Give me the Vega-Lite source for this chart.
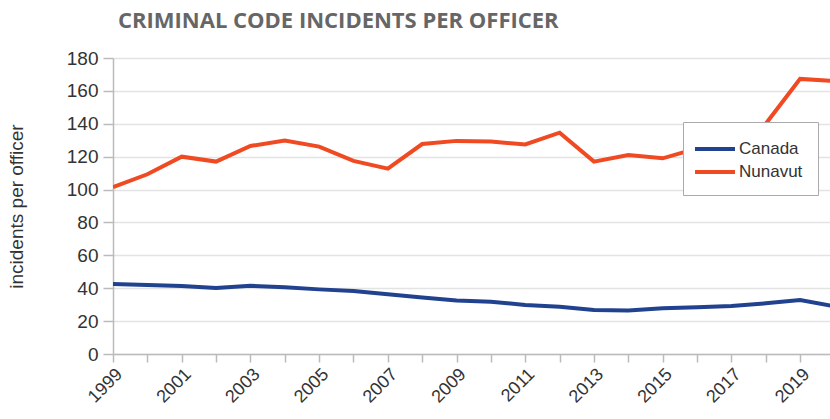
{
  "$schema": "https://vega.github.io/schema/vega-lite/v6.json",
  "width": 717,
  "height": 296,
  "autosize": "none",
  "padding": {"left": 113, "top": 58, "right": 0, "bottom": 65},
  "background": "white",
  "title": {
    "text": "CRIMINAL CODE INCIDENTS PER OFFICER",
    "anchor": "start",
    "frame": "group",
    "font": "Open Sans",
    "fontWeight": 700,
    "fontSize": 22,
    "color": "#666666",
    "dx": 5,
    "offset": 16
  },
  "config": {"view": {"stroke": null}, "font": "Liberation Sans"},
  "data": {
    "values": [
      {"year": 1999, "region": "Canada", "value": 42.6},
      {"year": 2000, "region": "Canada", "value": 42.0},
      {"year": 2001, "region": "Canada", "value": 41.4},
      {"year": 2002, "region": "Canada", "value": 40.1},
      {"year": 2003, "region": "Canada", "value": 41.5},
      {"year": 2004, "region": "Canada", "value": 40.6},
      {"year": 2005, "region": "Canada", "value": 39.3},
      {"year": 2006, "region": "Canada", "value": 38.3},
      {"year": 2007, "region": "Canada", "value": 36.3},
      {"year": 2008, "region": "Canada", "value": 34.3},
      {"year": 2009, "region": "Canada", "value": 32.6},
      {"year": 2010, "region": "Canada", "value": 31.8},
      {"year": 2011, "region": "Canada", "value": 29.8},
      {"year": 2012, "region": "Canada", "value": 28.8},
      {"year": 2013, "region": "Canada", "value": 26.8},
      {"year": 2014, "region": "Canada", "value": 26.4},
      {"year": 2015, "region": "Canada", "value": 27.8},
      {"year": 2016, "region": "Canada", "value": 28.4},
      {"year": 2017, "region": "Canada", "value": 29.2},
      {"year": 2018, "region": "Canada", "value": 30.8},
      {"year": 2019, "region": "Canada", "value": 32.8},
      {"year": 2020, "region": "Canada", "value": 29.0},
      {"year": 1999, "region": "Nunavut", "value": 101.5},
      {"year": 2000, "region": "Nunavut", "value": 109.3},
      {"year": 2001, "region": "Nunavut", "value": 120.0},
      {"year": 2002, "region": "Nunavut", "value": 117.0},
      {"year": 2003, "region": "Nunavut", "value": 126.5},
      {"year": 2004, "region": "Nunavut", "value": 129.8},
      {"year": 2005, "region": "Nunavut", "value": 126.1},
      {"year": 2006, "region": "Nunavut", "value": 117.4},
      {"year": 2007, "region": "Nunavut", "value": 112.7},
      {"year": 2008, "region": "Nunavut", "value": 127.7},
      {"year": 2009, "region": "Nunavut", "value": 129.6},
      {"year": 2010, "region": "Nunavut", "value": 129.2},
      {"year": 2011, "region": "Nunavut", "value": 127.4},
      {"year": 2012, "region": "Nunavut", "value": 134.6},
      {"year": 2013, "region": "Nunavut", "value": 117.0},
      {"year": 2014, "region": "Nunavut", "value": 121.0},
      {"year": 2015, "region": "Nunavut", "value": 119.0},
      {"year": 2016, "region": "Nunavut", "value": 125.0},
      {"year": 2017, "region": "Nunavut", "value": 131.0},
      {"year": 2018, "region": "Nunavut", "value": 140.0},
      {"year": 2019, "region": "Nunavut", "value": 167.3},
      {"year": 2020, "region": "Nunavut", "value": 166.0}
    ]
  },
  "mark": {"type": "line", "strokeWidth": 4, "clip": true},
  "encoding": {
    "x": {
      "field": "year",
      "type": "quantitative",
      "scale": {"domain": [1999, 2019.87], "nice": false, "zero": false},
      "axis": {
        "title": null,
        "values": [1999, 2000, 2001, 2002, 2003, 2004, 2005, 2006, 2007, 2008, 2009, 2010, 2011, 2012, 2013, 2014, 2015, 2016, 2017, 2018, 2019],
        "format": "d",
        "labelExpr": "datum.value % 2 == 1 ? datum.label : ''",
        "grid": false,
        "domainColor": "#bbbbbb",
        "domainWidth": 1.5,
        "tickColor": "#bbbbbb",
        "tickWidth": 1.5,
        "tickSize": 8,
        "labelAngle": -45,
        "labelFontSize": 18,
        "labelColor": "#333333",
        "labelPadding": 3,
        "labelOverlap": false
      }
    },
    "y": {
      "field": "value",
      "type": "quantitative",
      "scale": {"domain": [0, 180], "nice": false},
      "axis": {
        "values": [0, 20, 40, 60, 80, 100, 120, 140, 160, 180],
        "grid": true,
        "gridColor": "#e3e3e3",
        "gridWidth": 1.5,
        "domainColor": "#bbbbbb",
        "domainWidth": 1.5,
        "tickColor": "#bbbbbb",
        "tickWidth": 1.5,
        "tickSize": 10,
        "labelFontSize": 19,
        "labelColor": "#333333",
        "labelPadding": 5,
        "title": "incidents per officer",
        "titleFontSize": 19,
        "titleFontWeight": "normal",
        "titleColor": "#333333",
        "titlePadding": 40
      }
    },
    "color": {
      "field": "region",
      "type": "nominal",
      "scale": {"domain": ["Canada", "Nunavut"], "range": ["#21428f", "#f04a23"]},
      "legend": {
        "orient": "none",
        "legendX": 570,
        "legendY": 64,
        "title": null,
        "fillColor": "white",
        "strokeColor": "#aaaaaa",
        "padding": 15,
        "symbolType": "M-1.5,0H2.5",
        "symbolSize": 400,
        "symbolStrokeWidth": 4,
        "labelFontSize": 17,
        "labelColor": "#333333",
        "labelOffset": 17,
        "rowPadding": 3
      }
    }
  }
}
